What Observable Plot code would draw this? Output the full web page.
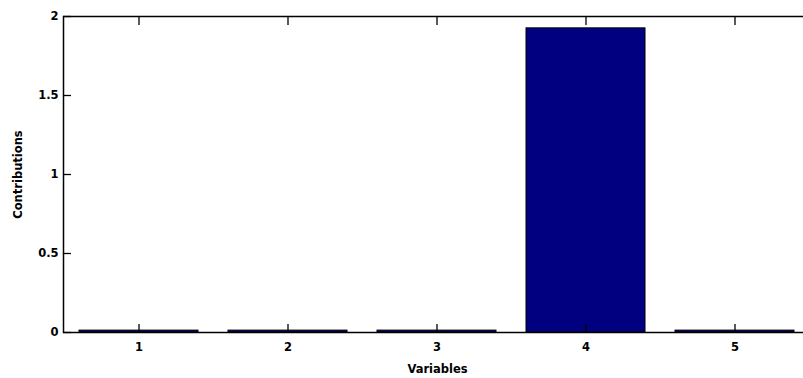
<!DOCTYPE html>
<html>
<head>
<meta charset="utf-8">
<script src="https://cdn.jsdelivr.net/npm/d3@7"></script>
<script src="https://cdn.jsdelivr.net/npm/@observablehq/plot@0.6"></script>
<style>
  html, body { margin: 0; padding: 0; background: #fff; overflow: hidden; width: 803px; height: 378px; }
  #chart { width: 803px; height: 378px; overflow: hidden; }
  svg { display: block; max-width: none !important; overflow: hidden !important; }
</style>
</head>
<body>
<div id="chart"></div>
<script>
const variables = [1, 2, 3, 4, 5];
const contributions = [0.012, 0.012, 0.012, 1.925, 0.012];
const yTicks = [0, 0.5, 1, 1.5, 2];
const xLabel = "Variables";
const yLabel = "Contributions";

const data = variables.map((v, i) => ({variable: v, value: contributions[i]}));
const font = "DejaVu Sans, sans-serif";

const chart = Plot.plot({
  width: 803,
  height: 378,
  marginLeft: 63,
  marginRight: -8,
  marginTop: 16,
  marginBottom: 46,
  style: {fontFamily: font, fontSize: "11.5px", fontWeight: "bold", color: "black", background: "white", overflow: "hidden"},
  x: {type: "band", domain: variables, paddingInner: 0.2, paddingOuter: 0.1, align: 0.5},
  y: {domain: [0, 2]},
  marks: [
    Plot.barY(data, {x: "variable", y: "value", fill: "#000080", stroke: "black", strokeWidth: 1}),
    Plot.frame({stroke: "black", strokeWidth: 1.5}),
    Plot.axisX({anchor: "bottom", tickSize: -8, tickFormat: () => "", label: null, strokeWidth: 1.3}),
    Plot.axisX({anchor: "top", tickSize: -8, tickFormat: () => "", label: null, strokeWidth: 1.3}),
    Plot.axisX({anchor: "bottom", tickSize: 0, tickPadding: 10, label: xLabel, labelAnchor: "center", labelArrow: "none", labelOffset: 40}),
    Plot.axisY({anchor: "left", ticks: yTicks, tickSize: -8, tickFormat: () => "", label: null, strokeWidth: 1.3}),
    Plot.axisY({anchor: "right", ticks: yTicks, tickSize: -8, tickFormat: () => "", label: null, strokeWidth: 1.3}),
    Plot.axisY({anchor: "left", ticks: yTicks, tickSize: 0, tickPadding: 5, tickFormat: d => String(d), label: yLabel, labelAnchor: "center", labelArrow: "none", labelOffset: 50})
  ]
});
document.getElementById("chart").appendChild(chart);
</script>
</body>
</html>
